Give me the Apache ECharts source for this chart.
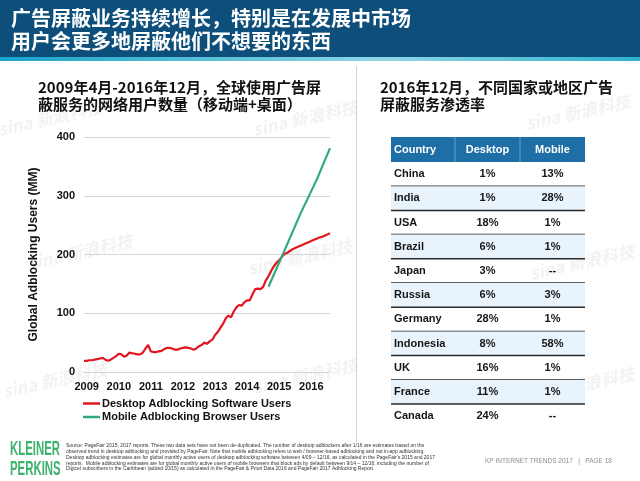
<!DOCTYPE html>
<html>
<head>
<meta charset="utf-8">
<script src="https://cdn.jsdelivr.net/npm/echarts@6/dist/echarts.min.js"></script>
<style>
html, body { margin: 0; padding: 0; background: #fff; }
#main { width: 640px; height: 481px; }
</style>
</head>
<body>
<div id="main"></div>
<script>
// texts
const titleLines = ['广告屏蔽业务持续增长，特别是在发展中市场', '用户会更多地屏蔽他们不想要的东西'];
const chartTitle = ['2009年4月-2016年12月，全球使用广告屏', '蔽服务的网络用户数量（移动端+桌面）'];
const tableTitle = ['2016年12月，不同国家或地区广告', '屏蔽服务渗透率'];
const yAxisName = 'Global Adblocking Users (MM)';
const seriesNames = ['Desktop Adblocking Software Users', 'Mobile Adblocking Browser Users'];

// monthly data, 2009-04 .. 2016-12
const firstMonth = [2009, 4];
const lastMonth = [2016, 12];
const desktopUsers = [
    19, 19, 20, 20, 21, 22, 23, 24, 21,
    19, 21, 24, 27, 31, 30, 26, 28, 33, 32, 31, 30,
    30, 33, 40, 46, 35, 34, 34, 35, 36, 39, 41, 41,
    40, 38, 38, 40, 41, 42, 41, 40, 38, 40, 44, 46,
    50, 48, 52, 55, 63, 68, 75, 82, 91, 96, 93, 103,
    110, 114, 113, 119, 122, 122, 132, 141, 142, 141, 145, 156,
    163, 172, 180, 186, 190, 196, 201, 203, 206, 209, 211, 213,
    215, 217, 219, 221, 223, 225, 227, 229, 230, 232, 234, 236
];
const mobileUsers = [
    ['2015-01', 145], ['2015-07', 207], ['2016-01', 270], ['2016-07', 327], ['2016-12', 381]
];
const yTicks = [0, 100, 200, 300, 400];

// table
const tableHeader = ['Country', 'Desktop', 'Mobile'];
const countries = ['China', 'India', 'USA', 'Brazil', 'Japan', 'Russia', 'Germany', 'Indonesia', 'UK', 'France', 'Canada'];
const desktopShare = ['1%', '1%', '18%', '6%', '3%', '6%', '28%', '8%', '16%', '11%', '24%'];
const mobileShare = ['13%', '28%', '1%', '1%', '--', '3%', '1%', '58%', '1%', '1%', '--'];

const sourceNote = [
    'Source: PageFair 2015, 2017 reports. These two data sets have not been de-duplicated. The number of desktop adblockers after 1/16 are estimates based on the',
    'observed trend in desktop adblocking and provided by PageFair. Note that mobile adblocking refers to web / browser-based adblocking and not in-app adblocking.',
    'Desktop adblocking estimates are for global monthly active users of desktop adblocking software between 4/09 \u2013 12/16, as calculated in the PageFair\'s 2015 and 2017',
    'reports.  Mobile adblocking estimates are for global monthly active users of mobile browsers that block ads by default between 9/14 \u2013 12/16, including the number of',
    'Digicel subscribers in the Caribbean (added 10/15) as calculated in the PageFair & Priori Data 2016 and PageFair 2017 Adblocking Report.'
];
const footerRight = 'KP INTERNET TRENDS 2017   |   PAGE 18';

const months = [];
for (let y = firstMonth[0], m = firstMonth[1]; y < lastMonth[0] || (y === lastMonth[0] && m <= lastMonth[1]); ) {
    months.push(y + '-' + (m < 10 ? '0' + m : m));
    m++;
    if (m > 12) { m = 1; y++; }
}

const CJK = '"Noto Sans CJK SC", sans-serif';
const LAT = '"Liberation Sans", Arial, sans-serif';
const RED = '#e1161e';
const GREEN = '#33a97b';

const graphics = [];

// header band
graphics.push({ type: 'rect', shape: { x: 0, y: 0, width: 640, height: 58 }, style: { fill: '#0d4f7a' } });
graphics.push({
    type: 'rect', shape: { x: 0, y: 57, width: 640, height: 4 },
    style: { fill: new echarts.graphic.LinearGradient(0, 0, 1, 0, [
        { offset: 0, color: '#19a4c9' }, { offset: 0.6, color: '#8fd6e6' }, { offset: 1, color: '#2eb0d0' }
    ]) }
});
graphics.push({
    type: 'text', left: 11, top: 7,
    style: { text: titleLines.join('\n'), fill: '#fff', font: 'bold 20px ' + CJK, lineHeight: 23 }
});

// watermarks
[[50, 118], [305, 118], [80, 252], [300, 257], [55, 380], [305, 376], [578, 112], [582, 262], [582, 385]].forEach(function (p) {
    graphics.push({
        type: 'text', x: p[0], y: p[1], rotation: 0.22, z: -10,
        style: { text: 'sina 新浪科技', fill: 'rgba(110,110,110,0.09)', font: 'italic bold 17px ' + CJK,
            textAlign: 'center', textVerticalAlign: 'middle' }
    });
});

// subtitles
graphics.push({ type: 'text', left: 38, top: 79,
    style: { text: chartTitle.join('\n'), fill: '#111', font: 'bold 15px ' + CJK, lineHeight: 17 } });
graphics.push({ type: 'text', left: 380, top: 79,
    style: { text: tableTitle.join('\n'), fill: '#111', font: 'bold 15px ' + CJK, lineHeight: 17 } });

// divider
graphics.push({ type: 'line', shape: { x1: 356.5, y1: 66, x2: 356.5, y2: 442 }, style: { stroke: '#d2d2d2', lineWidth: 1 } });

// table
const tx = 391, colW = [64, 65, 65], headY = 137, headH = 25, rowH = 24.2;
const tableW = colW[0] + colW[1] + colW[2];
const colCenter = [tx + 3, tx + colW[0] + colW[1] / 2, tx + colW[0] + colW[1] + colW[2] / 2];
graphics.push({ type: 'rect', shape: { x: tx, y: headY, width: tableW, height: headH }, style: { fill: '#1d6fa6' } });
[tx + colW[0], tx + colW[0] + colW[1]].forEach(function (x) {
    graphics.push({ type: 'line', shape: { x1: x, y1: headY, x2: x, y2: headY + headH }, style: { stroke: 'rgba(255,255,255,0.35)', lineWidth: 1 } });
});
tableHeader.forEach(function (h, i) {
    graphics.push({ type: 'text', x: colCenter[i], y: headY + headH / 2,
        style: { text: h, fill: '#fff', font: 'bold 11px ' + LAT, textAlign: i === 0 ? 'left' : 'center', textVerticalAlign: 'middle' } });
});
countries.forEach(function (c, r) {
    const y0 = headY + headH + r * rowH;
    if (r % 2 === 1) {
        graphics.push({ type: 'rect', shape: { x: tx, y: y0, width: tableW, height: rowH }, style: { fill: '#e9f3fb' } });
    }
    [c, desktopShare[r], mobileShare[r]].forEach(function (t, i) {
        graphics.push({ type: 'text', x: colCenter[i], y: y0 + rowH / 2,
            style: { text: t, fill: '#151515', font: 'bold 11px ' + LAT, textAlign: i === 0 ? 'left' : 'center', textVerticalAlign: 'middle' } });
    });
    if (r < countries.length - 1) {
        graphics.push({ type: 'line', shape: { x1: tx, y1: y0 + rowH, x2: tx + tableW, y2: y0 + rowH }, style: { stroke: '#2a2a2a', lineWidth: 1.5 } });
    }
});

// footer
graphics.push({ type: 'text', x: 10, y: 440, scaleX: 0.6, scaleY: 1.05,
    style: { text: 'KLEINER', fill: '#3cb26c', font: 'bold 19px ' + LAT } });
graphics.push({ type: 'text', x: 10, y: 460, scaleX: 0.6, scaleY: 1.05,
    style: { text: 'PERKINS', fill: '#3cb26c', font: 'bold 19px ' + LAT } });
graphics.push({ type: 'text', left: 66, top: 443,
    style: { text: sourceNote.join('\n'), fill: '#333', font: '5px ' + LAT, lineHeight: 5.8 } });
graphics.push({ type: 'text', x: 485, y: 461,
    style: { text: footerRight, fill: '#8d8d8d', font: '6.5px ' + LAT, textVerticalAlign: 'middle' } });

const chart = echarts.init(document.getElementById('main'), null, { renderer: 'canvas' });
chart.setOption({
    animation: false,
    backgroundColor: '#fff',
    graphic: { elements: graphics },
    grid: { left: 84, right: 310, top: 137, bottom: 109 },
    legend: {
        orient: 'vertical', left: 83, top: 398, padding: 0,
        icon: 'rect', itemWidth: 17, itemHeight: 2.5, itemGap: 2.5,
        textStyle: { fontFamily: LAT, fontWeight: 'bold', fontSize: 11, color: '#111', padding: [0, 0, 0, -3] },
        data: seriesNames
    },
    xAxis: {
        type: 'category', data: months, boundaryGap: false,
        axisLine: { show: false }, axisTick: { show: false },
        axisLabel: {
            interval: function (i, v) { return v.slice(5) === '05'; },
            formatter: function (v) { return v.slice(0, 4); },
            margin: 9, fontFamily: LAT, fontWeight: 'bold', fontSize: 11, color: '#111'
        },
        splitLine: { show: false }
    },
    yAxis: {
        type: 'value', min: yTicks[0], max: yTicks[yTicks.length - 1], interval: 100,
        name: yAxisName, nameLocation: 'middle', nameGap: 44,
        nameTextStyle: { fontFamily: LAT, fontWeight: 'bold', fontSize: 12, color: '#111' },
        axisLine: { show: false }, axisTick: { show: false },
        axisLabel: { margin: 9, fontFamily: LAT, fontWeight: 'bold', fontSize: 11, color: '#111' },
        splitLine: { lineStyle: { color: '#d6d6d6', width: 1 } }
    },
    series: [
        { name: seriesNames[0], type: 'line', data: desktopUsers, symbol: 'none', color: RED, lineStyle: { width: 2.2, color: RED } },
        { name: seriesNames[1], type: 'line', data: mobileUsers, symbol: 'none', color: GREEN, lineStyle: { width: 2.2, color: GREEN } }
    ]
});
</script>
</body>
</html>
